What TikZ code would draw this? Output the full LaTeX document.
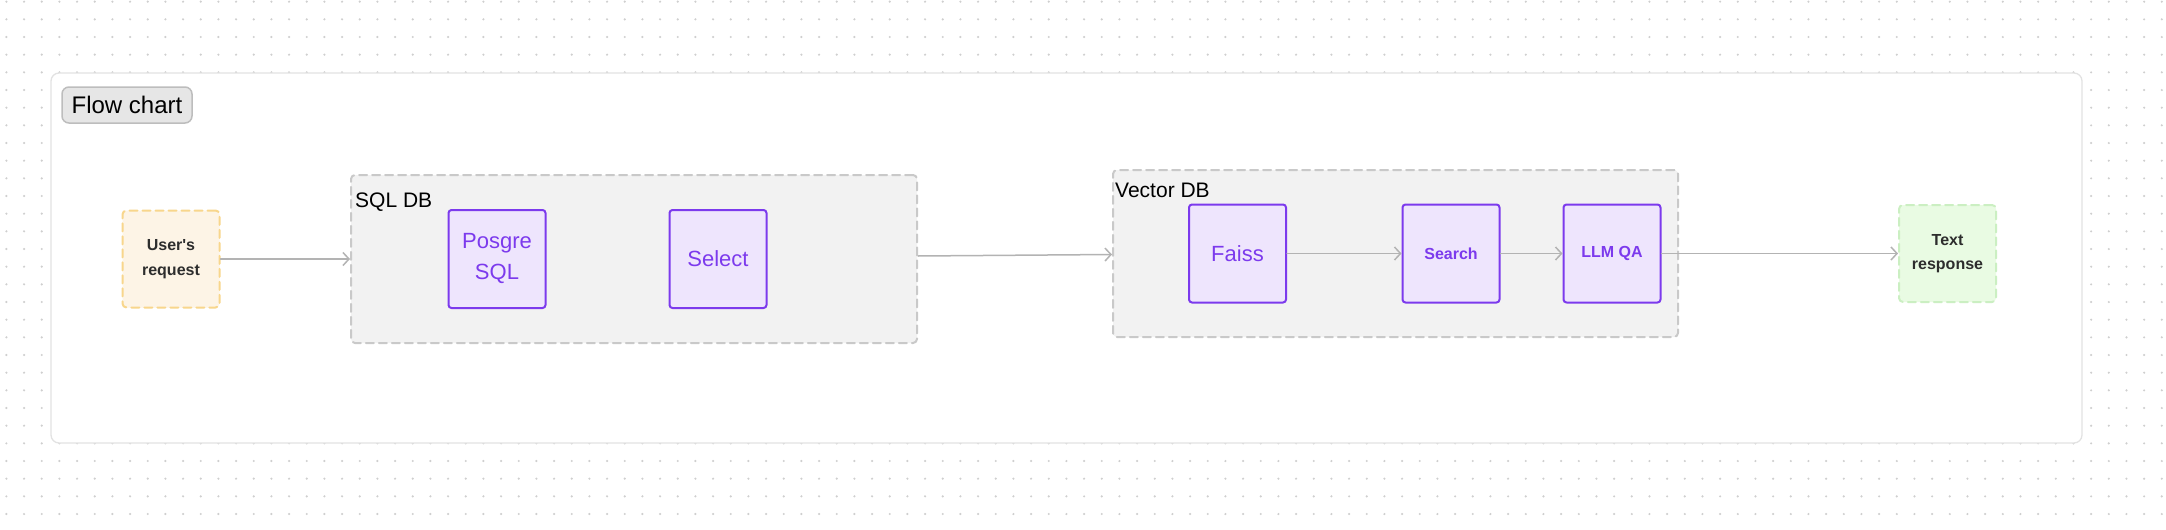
\documentclass[tikz,border=0pt]{standalone}
\usepackage{fontspec}
\setmainfont{Liberation Sans}
\usetikzlibrary{arrows.meta}
\usetikzlibrary{positioning}

\definecolor{dotgray}{HTML}{CFCFCF}
\definecolor{framegray}{HTML}{E2E2E2}
\definecolor{taggray}{HTML}{E6E6E6}
\definecolor{tagline}{HTML}{BDBDBD}
\definecolor{boxgray}{HTML}{F2F2F2}
\definecolor{boxline}{HTML}{C9C9C9}
\definecolor{violet}{HTML}{7C3AED}
\definecolor{lavender}{HTML}{EEE5FD}
\definecolor{cream}{HTML}{FDF4E6}
\definecolor{creamline}{HTML}{F8D68C}
\definecolor{mint}{HTML}{E9FBE3}
\definecolor{mintline}{HTML}{CBEFC2}
\definecolor{arrowgray}{HTML}{B3B3B3}
\definecolor{inkgray}{HTML}{2D2D2D}

\begin{document}
\begin{tikzpicture}[x=1pt,y=-1pt,line cap=round,line join=round,
  >={Straight Barb[length=6pt,width=13pt]},
  flow/.style={draw=arrowgray,line width=1.5pt,->},
  groupbox/.style={draw=boxline,fill=boxgray,line width=2pt,dash pattern=on 8pt off 5pt,rounded corners=4pt,inner sep=0pt},
  grouplbl/.style={anchor=base west,inner sep=0pt,font=\fontsize{21}{25}\selectfont},
  stepbox/.style={draw=violet,fill=lavender,line width=2pt,rounded corners=3pt,inner sep=0pt,
    minimum width=97pt,minimum height=98pt,text=violet,align=center,font=\fontsize{22}{31}\selectfont},
  ioboxbase/.style={line width=2pt,dash pattern=on 8pt off 5pt,rounded corners=4pt,inner sep=0pt,
    minimum width=97pt,minimum height=97pt,text=inkgray,align=center,font=\bfseries\fontsize{16}{24.5}\selectfont},
  inbox/.style={ioboxbase,draw=creamline,fill=cream},
  outbox/.style={ioboxbase,draw=mintline,fill=mint}]
\useasboundingbox (0,0) rectangle (2166,530);
% dotted canvas
\foreach \j in {0,...,29}
  \fill[dotgray] foreach \i in {0,...,122} {(6.4+17.667*\i,1.67+17.667*\j) circle (1.2)};
\draw[draw=framegray,fill=white,line width=1.3pt,rounded corners=8pt] (51,73) rectangle (2082,443);
\node[draw=tagline,fill=taggray,line width=1.5pt,rounded corners=7pt,minimum width=130pt,minimum height=36pt,
  inner sep=0pt,font=\fontsize{24}{28}\selectfont] (tag) at (127,105) {Flow chart};

\node[groupbox,minimum width=566pt,minimum height=168pt] (sqldb) at (634,259) {};
\node[grouplbl] (sqllbl) at (355,207) {SQL DB};
\node[groupbox,minimum width=565pt,minimum height=167pt] (vecdb) at (1395.5,253.5) {};
\node[grouplbl] (veclbl) at (1115,197) {Vector DB};

\node[inbox] (request) at (171,259) {User\textquotesingle s\\request};
\node[stepbox] (posgre) at (497,259) {Posgre\\SQL};
\node[stepbox] (select) at (718,259) {Select};
\node[stepbox] (faiss) at (1237.5,253.5) {Faiss};
\node[stepbox,font=\bfseries\fontsize{16}{20}\selectfont] (search) at (1451,253.5) {Search};
\node[stepbox,font=\bfseries\fontsize{16}{20}\selectfont] (llmqa) at (1612,253.5) {LLM QA};
\node[outbox] (response) at (1947.5,253.5) {Text\\response};

\draw[flow] (request) -- (sqldb.west);
\draw[flow] ([yshift=3pt]sqldb.east) -- ([yshift=-1pt]vecdb.west);
\draw[flow] (faiss) -- (search);
\draw[flow] (search) -- (llmqa);
\draw[flow] (llmqa) -- (response);
\end{tikzpicture}
\end{document}
